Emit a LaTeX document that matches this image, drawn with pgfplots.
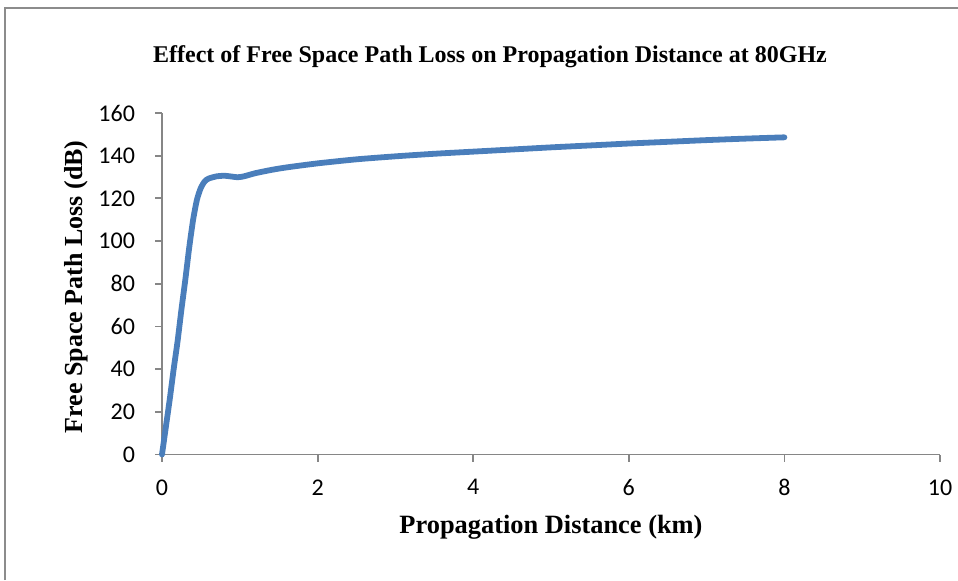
\documentclass[border=0pt]{standalone}
\usepackage{fontspec}
\usepackage{pgfplots}
\pgfplotsset{compat=1.18}
\setmainfont{Liberation Serif}
\newfontfamily\tickfont{Carlito}
\definecolor{lineblue}{HTML}{4A7EBB}
\definecolor{axgray}{RGB}{134,134,134}
\definecolor{framegray}{RGB}{140,140,140}
\begin{document}
\begin{tikzpicture}
\useasboundingbox (0,0) rectangle (479pt,290pt);
\draw[framegray, line width=1.2pt] (2.5pt,0) -- (2.5pt,286pt) -- (479pt,286pt);
\node[font=\bfseries\fontsize{12}{14}\selectfont] at (245pt,261.5pt) {Effect of Free Space Path Loss on Propagation Distance at 80GHz};
\begin{axis}[
  at={(81pt,62.75pt)}, anchor=south west,
  width=389pt, height=170.75pt, scale only axis,
  xmin=0, xmax=10, ymin=0, ymax=160,
  xtick={0,2,4,6,8,10}, ytick={0,20,...,160},
  axis x line=bottom, axis y line=left,
  axis line style={draw=axgray, line width=0.9pt, -},
  tick style={draw=axgray, line width=0.9pt},
  tick align=outside, major tick length=3.5pt,
  clip=false,
  /pgf/number format/assume math mode=true,
  ticklabel style={font=\tickfont\fontsize{12}{14}\selectfont, text=black},
  xticklabel style={yshift=-5.5pt},
  yticklabel style={xshift=-6.5pt},
  xlabel={Propagation Distance (km)},
  ylabel={Free Space Path Loss (dB)},
  xlabel style={font=\bfseries\fontsize{13.2}{15}\selectfont, at={(axis description cs:0.5,0)}, anchor=center, yshift=-36.5pt},
  ylabel style={font=\bfseries\fontsize{13}{15}\selectfont, at={(axis description cs:0,0.5)}, anchor=center, yshift=43pt, xshift=-1.5pt},
]
\addplot[lineblue, line width=2.9pt, smooth, tension=0.4, line cap=round, line join=round] coordinates {
(0,0) (0.05,13) (0.1,26) (0.15,40) (0.2,53) (0.25,68) (0.3,82) (0.35,97) (0.4,110) (0.45,119.5) (0.5,125) (0.55,128) (0.6,129.3) (0.7,130.3) (0.8,130.6) (0.9,130.2) (0.97,129.9) (1.05,130.3) (1.2,131.8) (1.4,133.3) (1.6,134.5) (2,136.4) (2.5,138.3) (3,139.7) (3.5,140.9) (4,141.9) (4.5,142.9) (5,143.9) (5.5,144.8) (6,145.7) (6.5,146.5) (7,147.3) (7.5,148.0) (8,148.6)
};
\end{axis}
\end{tikzpicture}
\end{document}
